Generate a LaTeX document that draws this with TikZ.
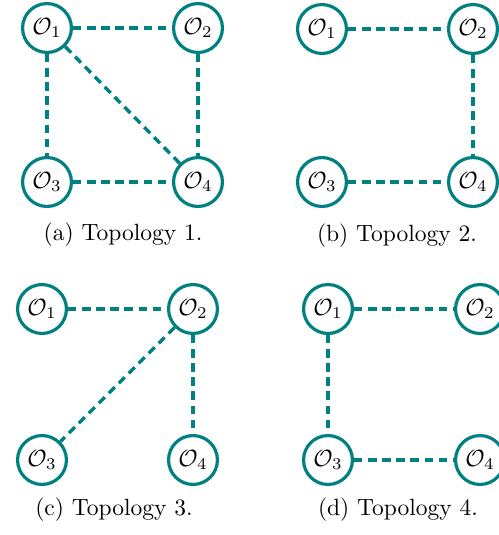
\documentclass[tikz,border=0pt]{standalone}
\begin{document}
\begin{tikzpicture}[x=0.4255pt,y=-0.4255pt,
  agent/.style={circle,draw=teal,line width=1.35pt,minimum size=20.8pt,inner sep=0pt,fill=white},
  link/.style={draw=teal,line width=1.45pt,dash pattern=on 3.6pt off 2.4pt},
  captext/.style={inner sep=0pt,font=\normalsize}]
\useasboundingbox (0,0) rectangle (499,535);
% (a)
\node[agent] (a1) at (47,28) {$\mathcal{O}_1$};
\node[agent] (a2) at (198,28) {$\mathcal{O}_2$};
\node[agent] (a3) at (47,182) {$\mathcal{O}_3$};
\node[agent] (a4) at (198,182) {$\mathcal{O}_4$};
\draw[link] (a1) -- (a2);
\draw[link] (a1) -- (a3);
\draw[link] (a2) -- (a4);
\draw[link] (a3) -- (a4);
\draw[link] (a1) -- (a4);
\node[captext] (capa) at (123,235) {(a) Topology 1.};
% (b)
\node[agent] (b1) at (322,29) {$\mathcal{O}_1$};
\node[agent] (b2) at (473,29) {$\mathcal{O}_2$};
\node[agent] (b3) at (322,182) {$\mathcal{O}_3$};
\node[agent] (b4) at (473,182) {$\mathcal{O}_4$};
\draw[link] (b1) -- (b2);
\draw[link] (b2) -- (b4);
\draw[link] (b3) -- (b4);
\node[captext] (capb) at (397,236) {(b) Topology 2.};
% (c)
\node[agent] (c1) at (42,309) {$\mathcal{O}_1$};
\node[agent] (c2) at (193,309) {$\mathcal{O}_2$};
\node[agent] (c3) at (42,460) {$\mathcal{O}_3$};
\node[agent] (c4) at (193,460) {$\mathcal{O}_4$};
\draw[link] (c1) -- (c2);
\draw[link] (c2) -- (c3);
\draw[link] (c2) -- (c4);
\node[captext] (capc) at (114,510) {(c) Topology 3.};
% (d)
\node[agent] (d1) at (328,309) {$\mathcal{O}_1$};
\node[agent] (d2) at (480,309) {$\mathcal{O}_2$};
\node[agent] (d3) at (328,460) {$\mathcal{O}_3$};
\node[agent] (d4) at (480,460) {$\mathcal{O}_4$};
\draw[link] (d1) -- (d2);
\draw[link] (d1) -- (d3);
\draw[link] (d3) -- (d4);
\node[captext] (capd) at (398,510) {(d) Topology 4.};
\end{tikzpicture}
\end{document}
